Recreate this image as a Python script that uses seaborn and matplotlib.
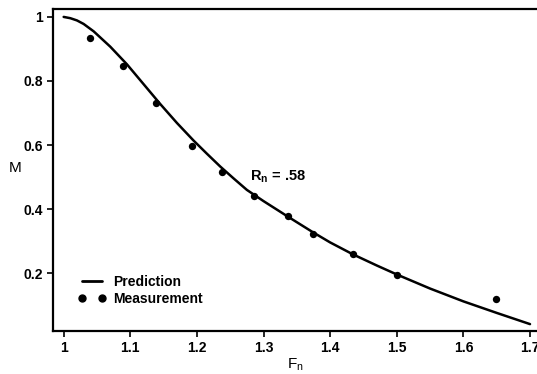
import numpy as np
import pandas as pd
import matplotlib
matplotlib.use("Agg")
import matplotlib.pyplot as plt
from matplotlib.lines import Line2D
from matplotlib.ticker import FixedLocator
import seaborn as sns

# Predicted M versus Froude number F_n
pred_fn = [1.000, 1.010, 1.020, 1.030, 1.045, 1.070, 1.095, 1.120, 1.145,
           1.170, 1.195, 1.215, 1.235, 1.255, 1.275, 1.300, 1.337, 1.374,
           1.400, 1.434, 1.470, 1.500, 1.550, 1.600, 1.650, 1.700]
pred_m = [1.000, 0.996, 0.989, 0.978, 0.955, 0.907, 0.852, 0.790, 0.728,
          0.669, 0.614, 0.573, 0.533, 0.496, 0.460, 0.425, 0.376, 0.328,
          0.296, 0.259, 0.224, 0.196, 0.152, 0.112, 0.076, 0.041]

# Measured M
meas_fn = [1.04, 1.089, 1.138, 1.193, 1.238, 1.285, 1.337, 1.374, 1.434, 1.50, 1.649]
meas_m = [0.935, 0.848, 0.732, 0.597, 0.516, 0.442, 0.378, 0.321, 0.259, 0.194, 0.120]

x_ticks = [1.0, 1.1, 1.2, 1.3, 1.4, 1.5, 1.6, 1.7]
x_labels = ["1", "1.1", "1.2", "1.3", "1.4", "1.5", "1.6", "1.7"]
y_ticks = [0.2, 0.4, 0.6, 0.8, 1.0]
y_labels = ["0.2", "0.4", "0.6", "0.8", "1"]

sns.set_style("ticks")
plt.rcParams["font.family"] = ["Liberation Sans", "DejaVu Sans"]
plt.rcParams["font.weight"] = "bold"
plt.rcParams["text.color"] = "black"
plt.rcParams["axes.labelcolor"] = "black"
plt.rcParams["xtick.color"] = "black"
plt.rcParams["ytick.color"] = "black"
plt.rcParams["mathtext.fontset"] = "custom"
plt.rcParams["mathtext.rm"] = "Liberation Sans:bold"
plt.rcParams["mathtext.it"] = "Liberation Sans:bold"
plt.rcParams["mathtext.bf"] = "Liberation Sans:bold"

pred = pd.DataFrame({"F": pred_fn, "M": pred_m})
meas = pd.DataFrame({"F": meas_fn, "M": meas_m})

fig = plt.figure(figsize=(5.37, 3.74), dpi=100)
ax = fig.add_axes([53 / 537, 1 - 331 / 374, 1 - 53 / 537, (331 - 9) / 374])

sns.lineplot(data=pred, x="F", y="M", ax=ax, color="black", linewidth=1.8,
             sort=False, legend=False, solid_joinstyle="round",
             solid_capstyle="round")
sns.scatterplot(data=meas, x="F", y="M", ax=ax, color="black", s=28,
                edgecolor="black", linewidth=0, legend=False, zorder=3)

ax.set_xlim(0.984, 1.7105)
ax.set_ylim(0.0195, 1.0247)
ax.xaxis.set_major_locator(FixedLocator(x_ticks))
ax.set_xticklabels(x_labels)
ax.yaxis.set_major_locator(FixedLocator(y_ticks))
ax.set_yticklabels(y_labels)
ax.tick_params(axis="both", direction="out", length=4, width=1.2,
               labelsize=10, colors="black", pad=3)

for side in ["left", "bottom", "top"]:
    ax.spines[side].set_visible(True)
    ax.spines[side].set_linewidth(1.6)
    ax.spines[side].set_color("black")
ax.spines["right"].set_visible(False)

ax.set_xlabel("$\\mathregular{F_n}$", fontsize=11, labelpad=1)
ax.set_ylabel("M", fontsize=11, rotation=0, labelpad=0)
ax.yaxis.set_label_coords(-0.078, 0.485)

ax.text(1.28, 0.50, "$\\mathregular{R_n}$ = .58", fontsize=10.5,
        va="center", ha="left")

handles = [
    Line2D([], [], color="black", linewidth=2),
    Line2D([], [], color="black", linestyle="none", marker="o", markersize=5),
]
ax.legend(handles, ["Prediction", "Measurement"], loc="lower left",
          bbox_to_anchor=(0.04, 0.06), frameon=False, fontsize=10,
          handlelength=2.0, numpoints=2, handletextpad=0.55,
          labelspacing=0.25, borderaxespad=0)

fig.savefig("out.png", dpi=100)
